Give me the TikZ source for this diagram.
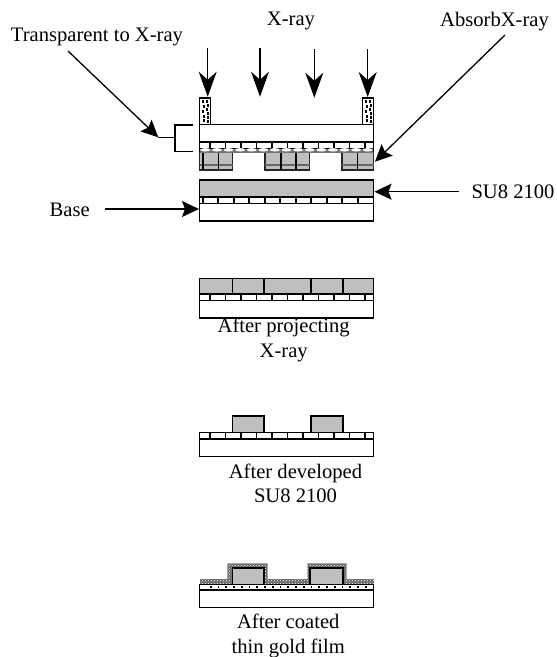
\documentclass[tikz,border=0pt]{standalone}
\usepackage{fontspec}
\setmainfont{Liberation Serif}
\usetikzlibrary{arrows.meta,patterns}
\tikzset{
  layer/.style={draw,line width=1.6pt,fill=white},
  resist/.style={draw,line width=1.6pt,fill=black!25},
  absorber/.style={draw=black!85,line width=1.6pt,fill=black!25},
  label/.style={font=\fontsize{20.6}{24.5}\selectfont,inner sep=0pt,align=center},
  ray/.style={line width=1.3pt,-{Stealth[length=25pt,width=18pt,inset=8pt]}},
  pointer/.style={line width=1.3pt,-{Stealth[length=17pt,width=16pt,inset=3pt]}},
  thinline/.style={line width=1.3pt},
}
% strip with ticks from y=#1, ticks from x=#2
\newcommand{\tickstrip}[2]{
  \draw[layer] (199.5,#1) rectangle (373.5,#1+6.5);
  \foreach \xtick in {0,...,10} \draw[line width=1.6pt] (#2+15.5*\xtick,#1) -- (#2+15.5*\xtick,#1+6.5);
}
% base below a strip
\newcommand{\baselayer}[1]{\draw[layer] (199.5,#1) rectangle (373.5,#1+17.5);}
% one mask pillar
\newcommand{\pillar}[1]{
  \draw[layer] (#1,98) rectangle (#1+11,124.5);
  \foreach \dx/\dy in {2/2,6/2,7/6,3/7,6/10,2/12,7/14,3/17,7/18,3/21,7/22}
    \fill (#1+\dx,98+\dy) rectangle +(2.5,2.5);
}
% outline of the gold film
\newcommand{\goldpath}{(200,579) -- (227.3,579) -- (227.3,563.3) -- (267.7,563.3) -- (267.7,579) -- (307.3,579) -- (307.3,563.3) -- (346.7,563.3) -- (346.7,579) -- (374,579) -- (374,584.3) -- (200,584.3) -- cycle}
\begin{document}
\begin{tikzpicture}[x=1pt,y=-1pt]
\useasboundingbox (0,0) rectangle (557,657);
% labels
\node[label] (xray) at (291,21) {X-ray};
\node[label] (transparent) at (97,37) {Transparent to X-ray};
\node[label] (absorb) at (494.5,21.5) {AbsorbX-ray};
\node[label] (su8) at (513,192) {SU8 2100};
\node[label] (base) at (69.7,210) {Base};
% X-ray arrows
\foreach \rayname/\xray/\ytop/\ytip in {a/207.7/47.7/96.7,b/260/47.7/96.7,c/314.3/49.3/97.7,d/367.7/49/97}{
  \coordinate (\rayname0) at (\xray,\ytop);
  \coordinate (\rayname1) at (\xray,\ytip);
  \draw[ray] (\rayname0) -- (\rayname1);
}
% mask
\pillar{199.5}
\pillar{362.5}
\draw[layer] (199.5,124.5) rectangle (373.5,142);
\tickstrip{142}{210}
\foreach \xa/\xb in {199.5/232.5,265/309.5,342/373.5}
  \draw[absorber] (\xa,152) rectangle (\xb,170);
\foreach \xa/\xb in {199.5/232.5,265/309.5,342/373.5}
  \draw[line width=1.4pt,black!60] (\xa,165) -- (\xb,165);
\foreach \xdiv in {202.7,218.3,280.7,296,357.3}
  \draw[line width=1.6pt] (\xdiv,152) -- (\xdiv,170);
\fill[black!55] (199.5,148.5) rectangle (373.5,152.5);
\foreach \xarc in {0,...,14}
  \fill[white] (205.3+11.6*\xarc,149.8) ellipse (5pt and 1.7pt);
\draw[line width=1.6pt] (199.5,148.5) -- (199.5,152) (373.5,148.5) -- (373.5,152);
% bracket
\coordinate (br1) at (192.7,125);
\coordinate (br2) at (175,125);
\coordinate (br3) at (175,151.7);
\coordinate (br4) at (192.7,151.7);
\coordinate (br5) at (175,137.3);
\coordinate (br6) at (158.3,137.3);
\draw[thinline] (br1) -- (br2) -- (br3) -- (br4);
\draw[thinline] (br5) -- (br6);
\coordinate (tr0) at (68,51);
\draw[pointer] (tr0) -- (br6);
\coordinate (ab0) at (505,35);
\coordinate (ab1) at (375,161.7);
\draw[pointer] (ab0) -- (ab1);
% resist on wafer
\draw[resist] (199.5,180) rectangle (373.5,197);
\tickstrip{197}{202.7}
\baselayer{203.5}
\coordinate (su0) at (459.3,191.7);
\coordinate (su1) at (374.5,191.7);
\draw[pointer] (su0) -- (su1);
\coordinate (ba0) at (105,209);
\coordinate (ba1) at (199,209);
\draw[pointer] (ba0) -- (ba1);
% after projecting
\draw[resist] (199.5,278.3) rectangle (373.5,294);
\foreach \xdiv in {232.3,264,310.7,342.7}
  \draw[line width=1.6pt] (\xdiv,278.3) -- (\xdiv,294);
\tickstrip{294}{210}
\baselayer{300.5}
\node[label] (step1) at (283.7,340) {After projecting\\X-ray};
% after developed
\draw[resist] (232.3,415.7) rectangle (264,432.5);
\draw[resist] (310.7,415.7) rectangle (342.7,432.5);
\tickstrip{432.5}{210}
\baselayer{439}
\node[label] (step2) at (295.5,483.5) {After developed\\SU8 2100};
% after coated
\fill[black!60] \goldpath;
\fill[pattern=crosshatch dots,pattern color=white] \goldpath;
\draw[resist] (232.3,567.7) rectangle (264,584.3);
\draw[resist] (310,567.7) rectangle (342.7,584.3);
\draw[layer] (199.5,584.3) rectangle (373.5,590);
\foreach \xdot in {0,...,20}
  \fill (210.7+7.75*\xdot-.9,586.4) rectangle +(1.8,1.8);
\baselayer{590}
\node[label] (step3) at (288.3,636) {After coated\\thin gold film};
\end{tikzpicture}
\end{document}
